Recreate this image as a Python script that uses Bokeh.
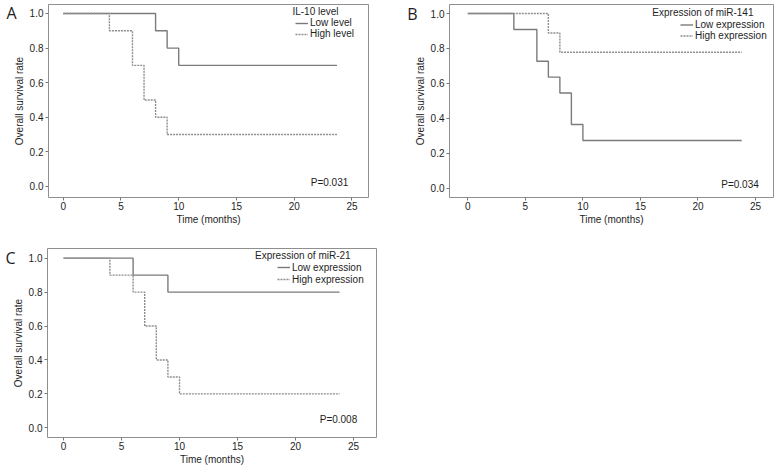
from bokeh.plotting import figure
from bokeh.models import (FixedTicker, PrintfTickFormatter, Label, Legend, LegendItem,
                          Range1d, LinearAxis)
from bokeh.layouts import column, row
from bokeh.embed import file_html
from bokeh.resources import INLINE

# ---- data ----
x_ticks = [0, 5, 10, 15, 20, 25]
y_ticks = [0.0, 0.2, 0.4, 0.6, 0.8, 1.0]

A_low_time = [0, 8, 9, 10, 23.7]
A_low_surv = [1.0, 0.9, 0.8, 0.7, 0.7]
A_high_time = [0, 4, 6, 7, 8, 9, 23.7]
A_high_surv = [1.0, 0.9, 0.7, 0.5, 0.4, 0.3, 0.3]

B_low_time = [0, 4, 6, 7, 8, 9, 10, 23.8]
B_low_surv = [1.0, 0.909, 0.727, 0.636, 0.545, 0.364, 0.273, 0.273]
B_high_time = [0, 7, 8, 23.8]
B_high_surv = [1.0, 0.889, 0.778, 0.778]

C_low_time = [0, 6, 9, 23.8]
C_low_surv = [1.0, 0.9, 0.8, 0.8]
C_high_time = [0, 4, 6, 7, 8, 9, 10, 23.8]
C_high_surv = [1.0, 0.9, 0.8, 0.6, 0.4, 0.3, 0.2, 0.2]

A_title, A_labels, A_p = "IL-10 level", ["Low level", "High level"], "P=0.031"
B_title, B_labels, B_p = "Expression of miR-141", ["Low expression", "High expression"], "P=0.034"
C_title, C_labels, C_p = "Expression of miR-21", ["Low expression", "High expression"], "P=0.008"

FONT = "Liberation Sans"
TXT = "#1e1e1e"
LOW_COL = "#7b7b7b"
HIGH_COL = "#8e8e8e"


def panel(letter, low_t, low_s, high_t, high_s, ltitle, labels, ptext,
          fw, fh, mbl, mbr, mbt, mbb, xr, yr, title_x, title_y, p_x, p_y,
          leg_loc, leg_h):
    p = figure(frame_width=fw, frame_height=fh, min_border_left=mbl, min_border_right=mbr,
               min_border_top=mbt, min_border_bottom=mbb,
               x_range=Range1d(*xr), y_range=Range1d(*yr),
               output_backend="svg", toolbar_location=None)
    p.xgrid.visible = False
    p.ygrid.visible = False
    p.outline_line_color = "#8f8f8f"
    p.outline_line_width = 1
    p.background_fill_color = "white"
    p.border_fill_color = "white"

    for ax in (p.xaxis[0], p.yaxis[0]):
        ax.axis_line_color = None
        ax.major_tick_out = 3
        ax.major_tick_in = 0
        ax.minor_tick_out = 0
        ax.minor_tick_in = 0
        ax.major_tick_line_color = "#777777"
        ax.major_label_text_font = FONT
        ax.major_label_text_font_size = "10px"
        ax.major_label_text_color = TXT
        ax.axis_label_text_font = FONT
        ax.axis_label_text_font_size = "10px"
        ax.axis_label_text_font_style = "normal"
        ax.axis_label_text_color = TXT
    p.xaxis.ticker = FixedTicker(ticks=x_ticks)
    p.yaxis.ticker = FixedTicker(ticks=y_ticks)
    p.yaxis.formatter = PrintfTickFormatter(format="%.1f")
    p.xaxis.axis_label = "Time (months)"
    p.yaxis.axis_label = "Overall survival rate"
    p.xaxis.major_label_standoff = 1
    p.xaxis.axis_label_standoff = 1
    p.yaxis.major_label_standoff = 2
    p.yaxis.axis_label_standoff = 2

    # panel letter: an outer left axis carrying one tick label
    lax = LinearAxis(ticker=FixedTicker(ticks=[1.0]), formatter=PrintfTickFormatter(format=letter),
                     axis_line_color=None, major_tick_out=0, major_tick_in=0,
                     minor_tick_out=0, minor_tick_in=0, major_label_standoff=-6,
                     major_label_text_font="Open Sans", major_label_text_font_size="16px",
                     major_label_text_color=TXT)
    p.add_layout(lax, "left")

    r_low = p.step(low_t, low_s, mode="after", line_color=LOW_COL, line_width=1.4)
    r_high = p.step(high_t, high_s, mode="after", line_color=HIGH_COL, line_width=1.4,
                    line_dash="2 1")

    leg = Legend(items=[LegendItem(label=labels[0], renderers=[r_low]),
                        LegendItem(label=labels[1], renderers=[r_high])],
                 location=leg_loc, margin=0, padding=0, spacing=0,
                 label_height=leg_h, glyph_height=leg_h, glyph_width=13, label_standoff=2,
                 border_line_color=None, background_fill_alpha=0,
                 label_text_font=FONT, label_text_font_size="10px", label_text_color=TXT)
    p.add_layout(leg)

    p.add_layout(Label(x=title_x, y=title_y, text=ltitle, text_align="right",
                       text_baseline="middle", text_font=FONT, text_font_size="10px",
                       text_color=TXT))
    p.add_layout(Label(x=p_x, y=p_y, text=ptext, text_align="right",
                       text_baseline="middle", text_font=FONT, text_font_size="10px",
                       text_color=TXT))
    return p


pA = panel("A", A_low_time, A_low_surv, A_high_time, A_high_surv, A_title, A_labels, A_p,
           320, 193, 48, 22, 4, 28, (-1.27, 26.43), (-0.064, 1.052),
           23.84, 1.012, 24.68, 0.025, (247, 158), 10)
pB = panel("B", B_low_time, B_low_surv, B_high_time, B_high_surv, B_title, B_labels, B_p,
           324, 193, 59, 4, 4, 28, (-1.59, 26.56), (-0.054, 1.052),
           24.82, 1.008, 25.28, 0.023, (231, 156), 11)
pC = panel("C", C_low_time, C_low_surv, C_high_time, C_high_surv, C_title, C_labels, C_p,
           329, 189, 47, 2, 21, 28, (-1.38, 26.98), (-0.057, 1.057),
           24.75, 1.016, 25.32, 0.049, (230, 152), 12)

layout = column(row(pA, pB), pC)
open("out.html", "w").write(file_html(layout, INLINE))
